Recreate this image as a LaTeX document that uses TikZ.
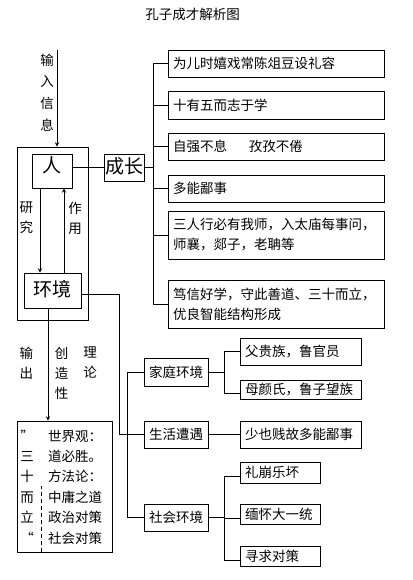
\documentclass[tikz,border=0pt]{standalone}
\usepackage{fontspec}
\setmainfont{Noto Sans CJK SC}
\usepackage{tikz}
\tikzset{
    % lines and arrows
    myarr/.style={-stealth, line width=0.9pt},
    myline/.style={line width=0.9pt},
    % texts
    mylab/.style={font=\fontsize{13.5}{20}\selectfont, align=center, inner sep=0pt},
    % boxes
    mybox/.style={draw, line width=0.9pt, inner sep=0pt, font=\fontsize{13.5}{20}\selectfont},
    bigbox/.style={mybox, font=\fontsize{19}{22}\selectfont, text height=15pt},
    itembox/.style={mybox, align=left, inner xsep=5pt, text width=#1},
}

\begin{document}
\begin{tikzpicture}[x=1pt, y=-1pt]
    \useasboundingbox (0,0) rectangle (412,580);
    % TITLE
    \node[mylab] (title) at (192.5,14) {孔子成才解析图};

    % INPUT
    \coordinate (in) at (57,50);
    \node[mylab, font=\fontsize{13.5}{21.7}\selectfont] (lblin) at (47,92.5) {输\\入\\信\\息};

    % PERSON / ENVIRONMENT
    \node[mybox, minimum width=71pt, minimum height=173pt] (outer) at (52.5,233.5) {};
    \node[bigbox, minimum width=40pt, minimum height=34pt, text depth=13pt] (ren) at (52,171) {人};
    \node[bigbox, minimum width=40pt, minimum height=27pt, text depth=4pt] (cz) at (124,167.5) {成长};
    \node[bigbox, minimum width=57pt, minimum height=35pt, text depth=4pt] (hj) at (52.5,290.5) {环境};
    \node[mylab] (lblyj) at (26.5,218) {研\\究};
    \node[mylab] (lblzy) at (75,218) {作\\用};

    % GROWTH
    \node[itembox=206pt, minimum height=27pt] (b1) at (276,63.5) {为儿时嬉戏常陈俎豆设礼容};
    \node[itembox=206pt, minimum height=28pt] (b2) at (276,105) {十有五而志于学};
    \node[itembox=206pt, minimum height=27pt] (b3) at (276,146.5) {自强不息\hspace{22pt}孜孜不倦};
    \node[itembox=206pt, minimum height=27pt] (b4) at (276,188.5) {多能鄙事};
    \node[itembox=206pt, minimum height=48pt] (b5) at (276,235) {三人行必有我师，入太庙每事问，\\师襄，郯子，老聃等};
    \node[itembox=206pt, minimum height=48pt] (b6) at (276,304) {笃信好学，守此善道、三十而立，\\优良智能结构形成};

    % ENVIRONMENT BRANCHES
    \node[mybox, minimum width=64pt, minimum height=28pt] (home) at (176,372) {家庭环境};
    \node[mybox, minimum width=64pt, minimum height=27pt] (life) at (176,434.5) {生活遭遇};
    \node[mybox, minimum width=64pt, minimum height=27pt] (soc) at (176,517.5) {社会环境};

    \node[itembox=111pt, minimum height=27pt] (fa) at (300.5,351.5) {父贵族，鲁官员};
    \node[itembox=111pt, minimum height=19pt] (mu) at (300.5,389.5) {母颜氏，鲁子望族};
    \node[itembox=111pt, minimum height=27pt] (shao) at (300.5,434.5) {少也贱故多能鄙事};
    \node[itembox=70pt, minimum height=21pt] (li) at (280,472.5) {礼崩乐坏};
    \node[itembox=70pt, minimum height=20pt] (mian) at (280,514) {缅怀大一统};
    \node[itembox=70pt, minimum height=20pt] (xun) at (280,556) {寻求对策};

    % OUTPUT
    \node[mylab] (lblsc) at (26.5,363) {输\\出};
    \node[mylab] (lblcz) at (61.5,373) {创\\造\\性};
    \node[mylab] (lblll) at (90,363) {理\\论};
    \node[mybox, minimum width=95pt, minimum height=131pt] (outbox) at (64.5,486.5) {};
    \foreach \l/\r [count=\i from 0] in {”/世界观：, 三/道必胜。, 十/方法论：, 而/中庸之道, 立/政治对策, “/社会对策}{
        \node[mylab, anchor=base] (ol\i) at (27,441+20.4*\i) {\l};
        \node[mylab, anchor=base west] (or\i) at (48,441+20.4*\i) {\r};
    }

    % ARROWS
    \draw[myarr] (in) -- (in |- outer.north);
    \draw[myline] (cz.west -| ren.east) -- (cz.west);
    \draw[myarr] ([xshift=-12pt]ren.south) -- ([xshift=-12pt]ren.south |- hj.north);
    \draw[myarr] ([xshift=12pt]ren.south |- hj.north) -- ([xshift=12pt]ren.south);
    \draw[myline] (cz.east) -- ++(9,0) coordinate (bus);
    \foreach \b in {b1,b2,b3,b4,b5,b6} \draw[myline] (bus) |- (\b.west);

    \draw[myline] ([yshift=-3.5pt]hj.east) -| ([xshift=-24pt]life.west) -- (life.west);
    \draw[myline] (home.west) -- ++(-16,0) |- (soc.west);
    \draw[myline] (home.east) -- ++(16,0) coordinate (hb);
    \draw[myline] (hb) |- (fa.west);
    \draw[myline] (hb) |- ([yshift=-3.5pt]mu.west);
    \draw[myline] (life) -- (shao);
    \draw[myline] (soc.east) -- ++(16,0) coordinate (sb);
    \foreach \b in {li,mian,xun} \draw[myline] (sb) |- ([yshift=-4pt]\b.west);

    \draw[myarr] ([xshift=-4.5pt]hj.south) -- ([xshift=-4.5pt]hj.south |- outbox.north);
    \draw[myline, dash pattern=on 4pt off 3pt] ([xshift=-23.5pt]outbox.south) -- ++(0,-66);
\end{tikzpicture}
\end{document}
